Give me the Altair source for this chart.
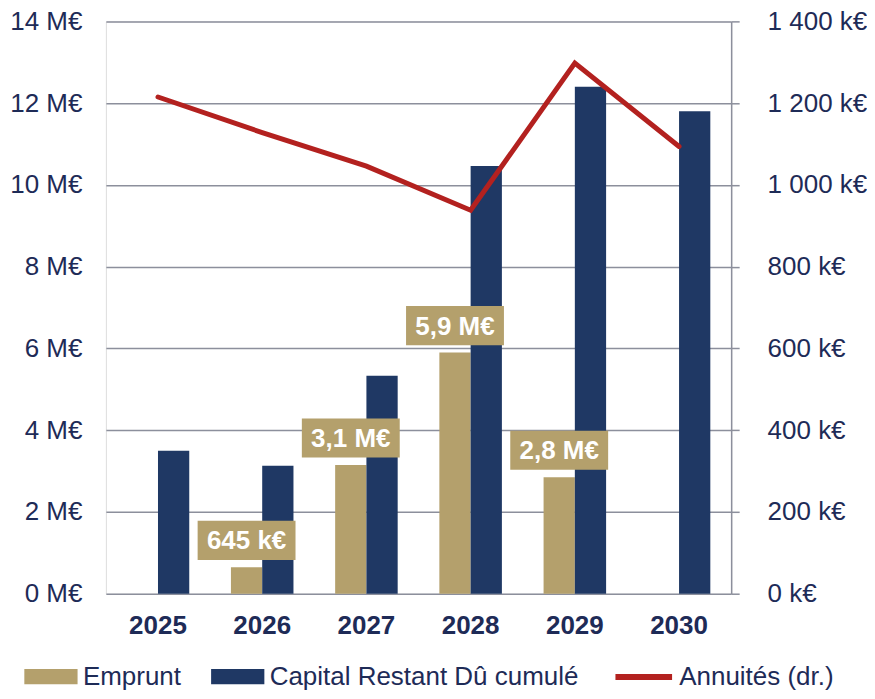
import altair as alt
import pandas as pd

# ---- data ----
years = ["2025", "2026", "2027", "2028", "2029", "2030"]
series = ["Emprunt", "Capital Restant Dû cumulé"]
emprunt = [0, 0.645, 3.15, 5.9, 2.85, 0]
capital = [3.5, 3.13, 5.33, 10.46, 12.4, 11.8]
annuites = [1215, 1128, 1046, 938, 1298, 1094]
line_name = "Annuités (dr.)"

label_years = ["2026", "2027", "2028", "2029"]
label_values = [0.645, 3.15, 5.9, 2.85]
label_texts = ["645 k€", "3,1 M€", "5,9 M€", "2,8 M€"]

left_ticks = [0, 2, 4, 6, 8, 10, 12, 14]
right_ticks = [0, 200, 400, 600, 800, 1000, 1200, 1400]

# ---- styles ----
TAN = "#B4A06C"
NAVY = "#1F3864"
RED = "#B3211F"
GRID = "#8C8F9C"
TXT = "#1E2B57"
FONT = "Liberation Sans"

bars_df = pd.DataFrame(
    [{"year": y, "serie": series[0], "value": v} for y, v in zip(years, emprunt)]
    + [{"year": y, "serie": series[1], "value": v} for y, v in zip(years, capital)]
)
line_df = pd.DataFrame({"year": years, "annuite": annuites, "lab": [line_name] * len(years)})
lab_df = pd.DataFrame({"year": label_years, "value": label_values, "txt": label_texts})

x_enc = alt.X(
    "year:N",
    scale=alt.Scale(domain=years, paddingInner=0.4, paddingOuter=0.2),
    axis=alt.Axis(title=None, labelAngle=0, labelFontWeight="bold", labelFontSize=26,
                  labelColor=TXT, labelFont=FONT, labelPadding=19, ticks=False, tickSize=0,
                  domain=False, grid=False),
)
y_enc = alt.Y(
    "value:Q",
    scale=alt.Scale(domain=[0, 14], nice=False, zero=True),
    axis=alt.Axis(title=None, values=left_ticks, labelExpr="datum.value + ' M€'",
                  grid=True, gridColor=GRID, gridWidth=1.5, domain=False, ticks=False,
                  tickSize=0, labelPadding=24, labelFontSize=26, labelColor=TXT,
                  labelFont=FONT),
)

bars = alt.Chart(bars_df).mark_bar().encode(
    x=x_enc,
    xOffset=alt.XOffset("serie:N", scale=alt.Scale(domain=series, paddingInner=0, paddingOuter=0)),
    y=y_enc,
    color=alt.Color(
        "serie:N",
        scale=alt.Scale(domain=series, range=[TAN, NAVY]),
        legend=alt.Legend(title=None, orient="none", legendX=-82, legendY=629,
                          direction="horizontal", symbolType="M-1,-0.29H1V0.29H-1Z",
                          symbolSize=2841, symbolStrokeWidth=0, symbolOpacity=1,
                          labelFontSize=26, labelColor=TXT, labelFont=FONT,
                          labelLimit=500, labelOffset=5, columnPadding=29, padding=0),
    ),
)

boxes = alt.Chart(lab_df).mark_point(
    shape="M-1,-0.4H1V0.4H-1Z", size=9604, filled=True, fill=TAN, opacity=1,
    strokeWidth=0, xOffset=-15.65, yOffset=-27,
).encode(x=x_enc, y=y_enc)

texts = alt.Chart(lab_df).mark_text(
    font=FONT, fontSize=26, fontWeight="bold", color="white", align="center",
    baseline="middle", xOffset=-15.65, yOffset=-26,
).encode(x=x_enc, y=y_enc, text="txt:N")

left = alt.layer(bars, boxes, texts)

line = alt.Chart(line_df).mark_line(strokeWidth=5, strokeCap="round").encode(
    x=x_enc,
    y=alt.Y(
        "annuite:Q",
        scale=alt.Scale(domain=[0, 1400], nice=False),
        axis=alt.Axis(orient="right", title=None, values=right_ticks,
                      labelExpr="replace(format(datum.value, ','), ',', ' ') + ' k€'",
                      grid=False, domain=True, domainColor=GRID, domainWidth=1.5,
                      ticks=True, tickSize=8, tickColor=GRID, tickWidth=1.5,
                      labelPadding=28, labelAlign="left", labelFontSize=26,
                      labelColor=TXT, labelFont=FONT),
    ),
    stroke=alt.Stroke(
        "lab:N",
        scale=alt.Scale(domain=[line_name], range=[RED]),
        legend=alt.Legend(title=None, orient="none", legendX=507, legendY=625,
                          symbolType="stroke", symbolSize=3215, symbolStrokeWidth=6,
                          labelFontSize=26, labelColor=TXT, labelFont=FONT,
                          labelLimit=500, labelOffset=4, padding=0),
    ),
)

chart = alt.layer(left, line).resolve_scale(y="independent").properties(
    width=626, height=573,
    padding={"left": 98, "top": 13, "right": 136, "bottom": 96},
    autosize=alt.AutoSizeParams(type="none"),
).configure_view(stroke=None).configure(font=FONT)

chart.save("out.html", embed_options={"renderer": "svg", "actions": False})
